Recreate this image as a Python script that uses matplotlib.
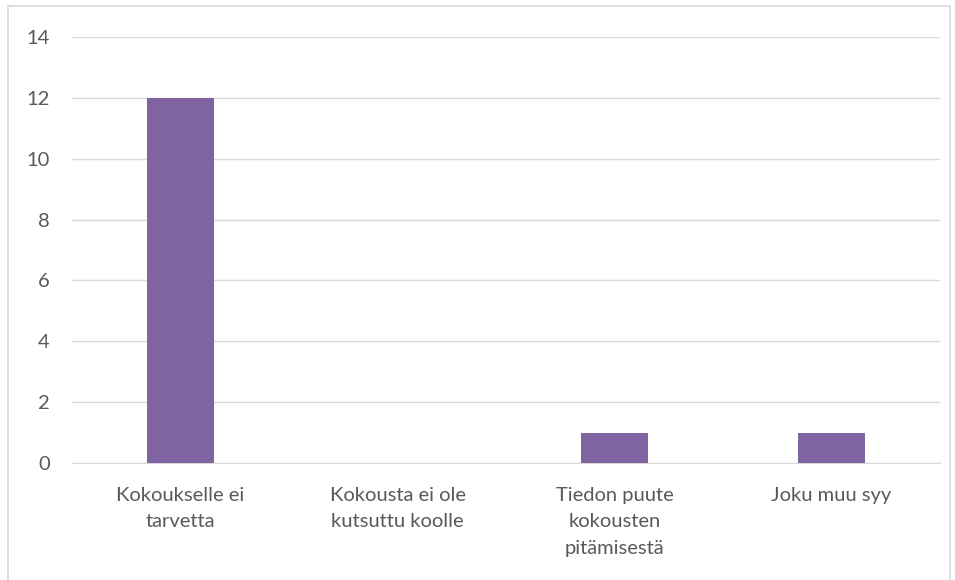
import matplotlib
matplotlib.use("Agg")
import matplotlib.pyplot as plt
from matplotlib.patches import Rectangle

categories = ["Kokoukselle ei\ntarvetta", "Kokousta ei ole\nkutsuttu koolle",
              "Tiedon puute\nkokousten\npitämisestä", "Joku muu syy"]
values = [12, 0, 1, 1]
yticks = [0, 2, 4, 6, 8, 10, 12, 14]

plt.rcParams['font.family'] = ['Lato', 'DejaVu Sans']

fig = plt.figure(figsize=(9.55, 5.8), dpi=100)
fig.patch.set_facecolor('white')
fig.patches.append(Rectangle((8/955, -0.05), (950-8)/955, 1 - 6/580 + 0.05,
                             transform=fig.transFigure, fill=False,
                             edgecolor='#D9D9D9', linewidth=1.2))

ax = fig.add_axes([72/955, 1 - 463/580, (940-72)/955, (463-37)/580])
x = range(len(categories))
ax.bar(x, values, width=0.31, color='#8064A2', zorder=3)
ax.set_xlim(-0.5, len(categories) - 0.5)
ax.set_ylim(0, 14)
ax.set_yticks(yticks)
ax.set_xticks(list(x))
ax.set_xticklabels(categories, linespacing=1.7)
ax.grid(axis='y', color='#D9D9D9', linewidth=1, zorder=0)
for s in ['top', 'right', 'left']:
    ax.spines[s].set_visible(False)
ax.spines['bottom'].set_color('#D9D9D9')
ax.tick_params(axis='both', length=0, colors='#595959', labelsize=14.5)
ax.tick_params(axis='x', pad=17)
ax.tick_params(axis='y', pad=16)
for lbl in ax.get_xticklabels():
    lbl.set_va('top')
    lbl.set_ha('center')

fig.savefig("out.png", dpi=100)
